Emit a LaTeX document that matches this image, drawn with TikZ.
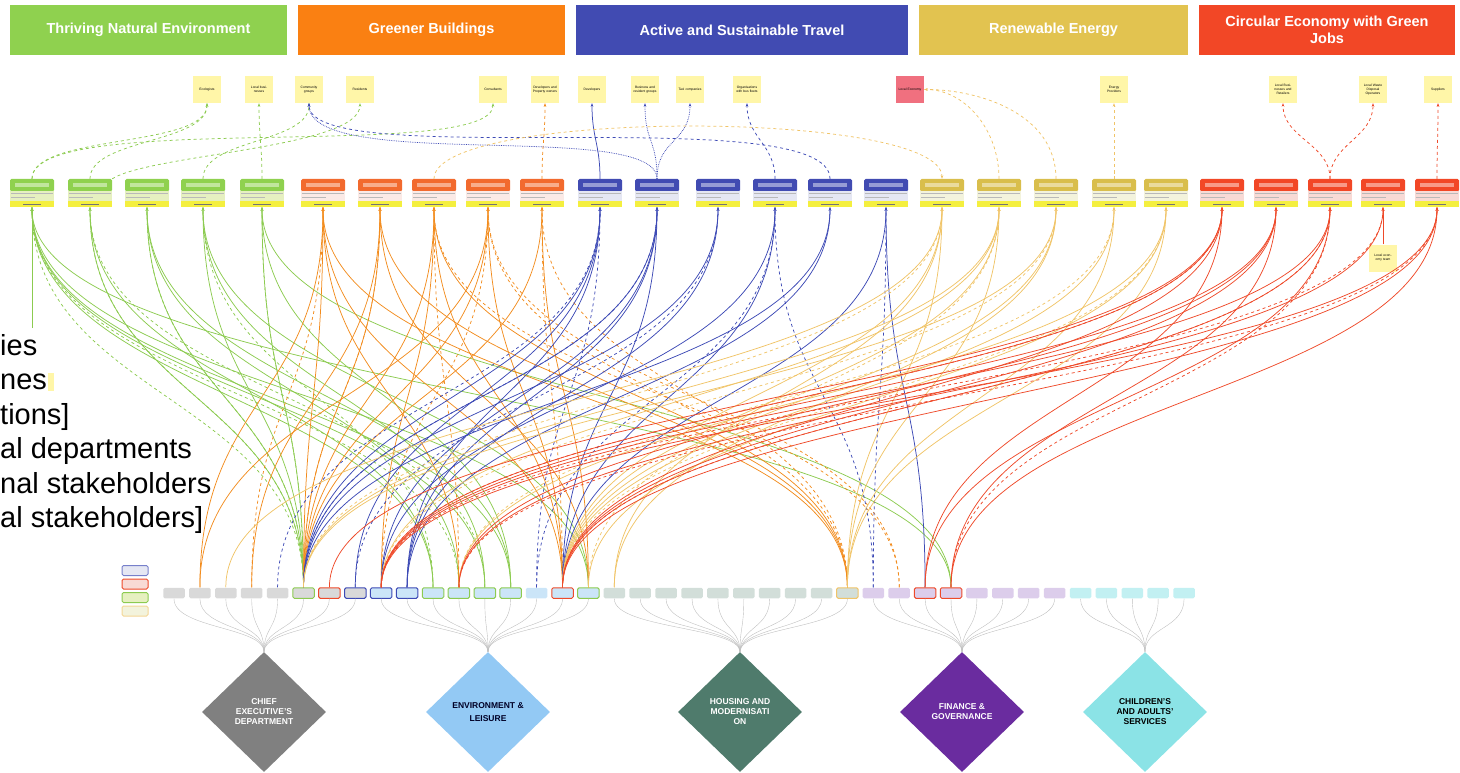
\documentclass[tikz,border=0pt]{standalone}
\usepackage{fontspec}
\setmainfont{Liberation Sans}
\usetikzlibrary{shapes.geometric,arrows.meta}

\definecolor{tne}{HTML}{8FD14F}
\definecolor{gbo}{HTML}{FA8012}
\definecolor{ast}{HTML}{414BB2}
\definecolor{ren}{HTML}{E2C350}
\definecolor{cir}{HTML}{F24726}
\definecolor{cgh}{HTML}{8FD14F}
\definecolor{cgb}{HTML}{E6F0C0}
\definecolor{coh}{HTML}{F26A2E}
\definecolor{cob}{HTML}{FBEAE6}
\definecolor{cbh}{HTML}{414BB2}
\definecolor{cbb}{HTML}{E5E7F3}
\definecolor{cyh}{HTML}{D9BE4C}
\definecolor{cyb}{HTML}{F3F3DC}
\definecolor{crh}{HTML}{F24726}
\definecolor{crb}{HTML}{F8DAD5}
\definecolor{cardyel}{HTML}{F4EF3F}
\definecolor{lgreen}{HTML}{8CCB50}
\definecolor{lorange}{HTML}{F28C1E}
\definecolor{lblue}{HTML}{3D4AB5}
\definecolor{lgold}{HTML}{F0C468}
\definecolor{lred}{HTML}{EE4A2A}
\definecolor{noteyel}{HTML}{FFF6A8}
\definecolor{notepink}{HTML}{F0707F}
\definecolor{fceo}{HTML}{D9D9D9}
\definecolor{fenv}{HTML}{CBE5F8}
\definecolor{fhou}{HTML}{D2DED9}
\definecolor{ffin}{HTML}{DCCDEB}
\definecolor{fchi}{HTML}{C2F0F2}
\definecolor{dceo}{HTML}{808080}
\definecolor{denv}{HTML}{93C9F4}
\definecolor{dhou}{HTML}{4F7B6C}
\definecolor{dfin}{HTML}{6A2C9F}
\definecolor{dchi}{HTML}{8BE3E6}

% project card: name, x, header colour, body colour
\newcommand{\card}[4]{%
\fill[#3,rounded corners=1.5pt] (#2-22,179) rectangle (#2+22,191.5);
\fill[#3!55!white] (#2-17,183.5) rectangle (#2+17,187);
\fill[#4] (#2-22,191.5) rectangle (#2+22,201);
\draw[gray!55,line width=1pt] (#2-21,193.8) -- (#2+21,193.8);
\draw[gray!55,line width=1pt] (#2-21,197.5) -- (#2+3,197.5);
\fill[cardyel] (#2-22,201) rectangle (#2+22,207);
\fill[black!55] (#2-9,203.6) rectangle (#2+9,204.4);
\node[inner sep=0,minimum width=44pt,minimum height=28pt] (#1) at (#2,193) {};
}

\begin{document}
\begin{tikzpicture}[x=1pt,y=-1pt,
  hdr/.style={text=white,font=\fontsize{14.5}{17}\selectfont\bfseries,align=center,inner sep=0,minimum height=50pt},
  note/.style={fill=noteyel,minimum width=28pt,minimum height=27pt,inner sep=0,text width=25pt,align=center,font=\fontsize{3.3}{3.9}\selectfont},
  bx/.style={rounded corners=1.5pt,minimum width=21.5pt,minimum height=10.5pt,inner sep=0,line width=1pt},
  dept/.style={diamond,minimum width=124pt,minimum height=120pt,inner sep=0,align=center,font=\fontsize{8.5}{10}\selectfont\bfseries},
  lnk/.style={line width=0.75pt,-{Stealth[length=3.5pt,width=2.6pt]}},
  gs/.style={lnk,lgreen}, gd/.style={gs,dashed},
  os/.style={lnk,lorange}, od/.style={os,dashed},
  bs/.style={lnk,lblue}, bd/.style={bs,dashed}, bdot/.style={bs,densely dotted},
  ys/.style={lnk,lgold}, yd/.style={ys,dashed},
  rs/.style={lnk,lred}, rd/.style={rs,dashed},
  fan/.style={gray!50,line width=0.4pt}]
\useasboundingbox (0,0) rectangle (1460,773);

% themes
\node[hdr,fill=tne,minimum width=277pt] (h1) at (148.5,30) {Thriving Natural Environment};
\node[hdr,fill=gbo,minimum width=267pt] (h2) at (431.5,30) {Greener Buildings};
\node[hdr,fill=ast,minimum width=332pt] (h3) at (742,30) {Active and Sustainable Travel};
\node[hdr,fill=ren,minimum width=269pt] (h4) at (1053.5,30) {Renewable Energy};
\node[hdr,fill=cir,minimum width=256pt] (h5) at (1327,30) {Circular Economy with Green\\Jobs};

% stakeholders
\node[note] (ecol) at (207,89.5) {Ecologists};
\node[note] (lbus) at (259,89.5) {Local businesses};
\node[note] (comm) at (309,89.5) {Community groups};
\node[note] (resid) at (360,89.5) {Residents};
\node[note] (cons) at (493,89.5) {Consultants};
\node[note] (devprop) at (545,89.5) {Developers and Property owners};
\node[note] (devs) at (592,89.5) {Developers};
\node[note] (busres) at (645,89.5) {Business and resident groups};
\node[note] (taxi) at (690,89.5) {Taxi companies};
\node[note] (fleet) at (747,89.5) {Organisations with bus fleets};
\node[note,fill=notepink] (loceco) at (910,89.5) {Local Economy};
\node[note] (enprov) at (1114,89.5) {Energy Providers};
\node[note] (lbr) at (1283,89.5) {Local Businesses and Retailers};
\node[note] (waste) at (1373,89.5) {Local Waste Disposal Operators};
\node[note] (supp) at (1438,89.5) {Suppliers};
\node[note] (team) at (1383,258) {Local economy team};

% project cards
\card{g1}{32}{cgh}{cgb}
\card{g2}{90}{cgh}{cgb}
\card{g3}{147}{cgh}{cgb}
\card{g4}{203}{cgh}{cgb}
\card{g5}{262}{cgh}{cgb}
\card{o1}{323}{coh}{cob}
\card{o2}{380}{coh}{cob}
\card{o3}{434}{coh}{cob}
\card{o4}{488}{coh}{cob}
\card{o5}{542}{coh}{cob}
\card{b1}{600}{cbh}{cbb}
\card{b2}{657}{cbh}{cbb}
\card{b3}{718}{cbh}{cbb}
\card{b4}{775}{cbh}{cbb}
\card{b5}{830}{cbh}{cbb}
\card{b6}{886}{cbh}{cbb}
\card{y1}{942}{cyh}{cyb}
\card{y2}{999}{cyh}{cyb}
\card{y3}{1056}{cyh}{cyb}
\card{y4}{1114}{cyh}{cyb}
\card{y5}{1166}{cyh}{cyb}
\card{r1}{1222}{crh}{crb}
\card{r2}{1276}{crh}{crb}
\card{r3}{1330}{crh}{crb}
\card{r4}{1383}{crh}{crb}
\card{r5}{1437}{crh}{crb}

% left text
\node[anchor=base west,inner sep=0,font=\fontsize{29}{34}\selectfont] (t1) at (0,355) {ies};
\node[anchor=base west,inner sep=0,font=\fontsize{29}{34}\selectfont] (t2) at (0,389.5) {nes};
\fill[noteyel] (t2.base east) ++(1,-17) rectangle ++(6,18);
\node[anchor=base west,inner sep=0,font=\fontsize{29}{34}\selectfont] (t3) at (0,424) {tions]};
\node[anchor=base west,inner sep=0,font=\fontsize{29}{34}\selectfont] (t4) at (0,458.5) {al departments};
\node[anchor=base west,inner sep=0,font=\fontsize{29}{34}\selectfont] (t5) at (0,493) {nal stakeholders};
\node[anchor=base west,inner sep=0,font=\fontsize{29}{34}\selectfont] (t6) at (0,527.5) {al stakeholders]};

% legend
\node[bx,minimum width=26pt,minimum height=10pt,fill=cbb,draw=lblue!70] (k1) at (135,570.5) {};
\node[bx,minimum width=26pt,minimum height=10pt,fill=crb,draw=lred] (k2) at (135,584) {};
\node[bx,minimum width=26pt,minimum height=10pt,fill=cgb,draw=lgreen] (k3) at (135,597.5) {};
\node[bx,minimum width=26pt,minimum height=10pt,fill=cyb,draw=lgold!70] (k4) at (135,611) {};

% departments
\node[dept,fill=dceo,text=white] (ceo) at (264,712) {CHIEF\\EXECUTIVE'S\\DEPARTMENT};
\node[dept,fill=denv,text=black!75!blue!60!black] (env) at (488,712) {ENVIRONMENT \&\\[3pt]LEISURE};
\node[dept,fill=dhou,text=white] (hou) at (740,712) {HOUSING AND\\MODERNISATI\\ON};
\node[dept,fill=dfin,text=white] (fin) at (962,712) {FINANCE \&\\GOVERNANCE};
\node[dept,fill=dchi,text=black] (chi) at (1145,712) {CHILDREN'S\\AND ADULTS'\\SERVICES};

% teams
\foreach \i/\f/\o in {1/fceo/none,2/fceo/none,3/fceo/none,4/fceo/none,5/fceo/none,6/fceo/lgreen,7/fceo/lred,8/fceo/lblue,
  9/fenv/lblue,10/fenv/lblue,11/fenv/lgreen,12/fenv/lgreen,13/fenv/lgreen,14/fenv/lgreen,15/fenv/none,16/fenv/lred,17/fenv/lgreen,
  18/fhou/none,19/fhou/none,20/fhou/none,21/fhou/none,22/fhou/none,23/fhou/none,24/fhou/none,25/fhou/none,26/fhou/none,27/fhou/lgold,
  28/ffin/none,29/ffin/none,30/ffin/lred,31/ffin/lred,32/ffin/none,33/ffin/none,34/ffin/none,35/ffin/none,
  36/fchi/none,37/fchi/none,38/fchi/none,39/fchi/none,40/fchi/none}
  \node[bx,fill=\f,draw=\o] (d\i) at ({174+25.9*(\i-1)},593) {};

\foreach \i in {1,...,8} \draw[fan] (d\i.south) .. controls +(0,30) and +(0,-25) .. (ceo.north);
\foreach \i in {9,...,17} \draw[fan] (d\i.south) .. controls +(0,30) and +(0,-25) .. (env.north);
\foreach \i in {18,...,27} \draw[fan] (d\i.south) .. controls +(0,30) and +(0,-25) .. (hou.north);
\foreach \i in {28,...,35} \draw[fan] (d\i.south) .. controls +(0,30) and +(0,-25) .. (fin.north);
\foreach \i in {36,...,40} \draw[fan] (d\i.south) .. controls +(0,30) and +(0,-25) .. (chi.north);

% links teams -> projects
\foreach \a/\b/\s in {g1/11/gs,g1/13/gs,g1/14/gs,g1/17/gs,g1/31/gs,g1/6/gd,g1/12/gd,
  g2/6/gs,g2/6/gd,g2/11/gs,g2/13/gd,
  g3/6/gs,g3/6/gd,g3/12/gs,g3/14/gs,
  g4/6/gs,g4/13/gs,g4/17/gs,g4/11/gd,
  g5/6/gs,g5/6/gd,g5/14/gs,g5/31/gs,
  o1/2/os,o1/6/os,o1/12/os,o1/16/os,o1/27/os,o1/4/od,
  o2/4/os,o2/6/os,o2/17/os,o2/27/os,o2/6/od,
  o3/6/os,o3/9/os,o3/16/os,o3/27/os,o3/12/od,o3/29/od,
  o4/2/os,o4/6/os,o4/16/os,o4/27/od,o4/29/od,o4/9/od,
  o5/6/os,o5/17/os,o5/27/od,o5/16/od,
  b1/6/bs,b1/8/bs,b1/10/bs,b1/5/bd,b1/15/bd,
  b2/6/bs,b2/9/bs,b2/10/bs,b2/16/bs,b2/6/bd,
  b3/6/bs,b3/10/bs,b3/8/bd,
  b4/9/bs,b4/16/bs,b4/28/bd,b4/15/bd,
  b5/6/bs,b5/10/bs,
  b6/16/bs,b6/30/bs,b6/28/bd,
  y1/3/ys,y1/16/ys,y1/18/ys,y1/27/ys,y1/6/yd,
  y2/6/ys,y2/9/ys,y2/16/ys,y2/27/ys,y2/17/yd,
  y3/6/ys,y3/16/ys,y3/18/ys,y3/9/yd,
  y4/16/ys,y4/27/ys,y4/12/yd,
  y5/12/ys,y5/17/ys,y5/27/ys,y5/16/yd,
  r1/7/rs,r1/9/rs,r1/16/rs,r1/30/rs,r1/9/rd,
  r2/9/rs,r2/12/rs,r2/16/rs,r2/31/rs,
  r3/9/rs,r3/16/rs,r3/30/rs,r3/31/rd,r3/16/rd,
  r4/9/rd,r4/12/rs,
  r5/9/rs,r5/16/rs,r5/31/rs,r5/12/rd}
  \draw[\s] (d\b.north) .. controls +(0,-190) and +(0,190) .. (\a.south);

\coordinate (gx) at (32,328);
\draw[gs] (gx) -- (g1.south);

% links projects -> stakeholders
\draw[gd] (g1.north) .. controls +(0,-45) and +(0,45) .. (ecol.south);
\draw[gd] (g1.north) .. controls +(0,-70) and +(0,60) .. (cons.south);
\draw[gd] (g2.north) .. controls +(0,-40) and +(0,40) .. (ecol.south);
\draw[gd] (g2.north east) .. controls +(40,-25) and +(0,45) .. (resid.south);
\draw[gd] (g4.north) .. controls +(0,-40) and +(0,40) .. (comm.south);
\draw[gd] (g5.north) .. controls +(0,-35) and +(0,35) .. (lbus.south);
\draw[od] (o5.north) .. controls +(0,-35) and +(0,35) .. (devprop.south);
\draw[bs] (b1.north) .. controls +(0,-35) and +(0,35) .. (devs.south);
\draw[bdot] (b2.north) .. controls +(0,-40) and +(0,40) .. (busres.south);
\draw[bdot] (b2.north) .. controls +(0,-40) and +(0,40) .. (taxi.south);
\draw[bdot] (b2.north) .. controls +(0,-60) and +(0,70) .. (comm.south);
\draw[bd] (b5.north) .. controls +(0,-80) and +(0,70) .. (comm.south);
\draw[bd] (b4.north) .. controls +(0,-35) and +(0,35) .. (fleet.south);
\draw[yd] (o3.north) .. controls +(0,-70) and +(0,-70) .. (y1.north);
\draw[yd] (y2.north) .. controls +(0,-50) and +(40,0) .. (loceco.east);
\draw[yd] (y3.north) .. controls +(0,-65) and +(55,0) .. (loceco.east);
\draw[yd] (y4.north) .. controls +(0,-35) and +(0,35) .. (enprov.south);
\draw[rd] (r3.north) .. controls +(0,-35) and +(0,35) .. (lbr.south);
\draw[rd] (r3.north) .. controls +(0,-35) and +(0,35) .. (waste.south);
\draw[rd] (r5.north) .. controls +(0,-35) and +(0,35) .. (supp.south);
\draw[rs] (team.north) -- (r4.south);
\end{tikzpicture}
\end{document}
